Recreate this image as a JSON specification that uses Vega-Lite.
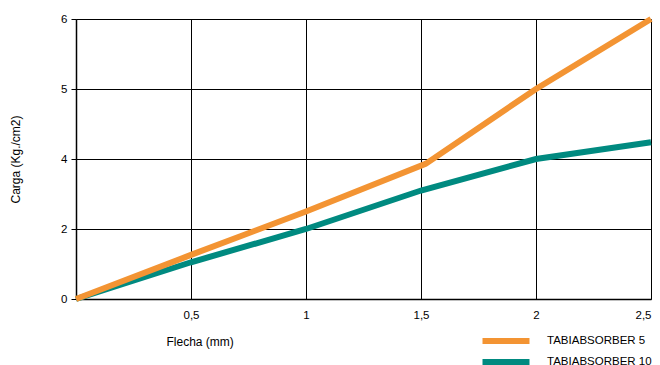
{
  "$schema": "https://vega.github.io/schema/vega-lite/v6.json",
  "width": 575,
  "height": 280,
  "autosize": {"type": "none"},
  "padding": {"left": 76, "top": 19, "right": 9, "bottom": 66},
  "background": "white",
  "config": {
    "view": {"stroke": null},
    "font": "Liberation Sans"
  },
  "data": {
    "values": [
      {"serie": "TABIABSORBER 10", "flecha": 0, "carga": 0},
      {"serie": "TABIABSORBER 10", "flecha": 0.5, "carga": 1.05},
      {"serie": "TABIABSORBER 10", "flecha": 1, "carga": 2},
      {"serie": "TABIABSORBER 10", "flecha": 1.5, "carga": 3.1},
      {"serie": "TABIABSORBER 10", "flecha": 2, "carga": 4},
      {"serie": "TABIABSORBER 10", "flecha": 2.5, "carga": 4.24},
      {"serie": "TABIABSORBER 5", "flecha": 0, "carga": 0},
      {"serie": "TABIABSORBER 5", "flecha": 0.5, "carga": 1.26},
      {"serie": "TABIABSORBER 5", "flecha": 1, "carga": 2.5},
      {"serie": "TABIABSORBER 5", "flecha": 1.52, "carga": 3.86},
      {"serie": "TABIABSORBER 5", "flecha": 2, "carga": 5},
      {"serie": "TABIABSORBER 5", "flecha": 2.5, "carga": 6}
    ]
  },
  "mark": {"type": "line", "strokeWidth": 6, "strokeCap": "butt", "strokeJoin": "miter"},
  "encoding": {
    "x": {
      "field": "flecha",
      "type": "quantitative",
      "scale": {"domain": [0, 2.5], "nice": false},
      "axis": {
        "values": [0, 0.5, 1, 1.5, 2, 2.5],
        "labelExpr": "datum.value == 0 ? '' : replace(format(datum.value, '.1~f'), '.', ',')",
        "title": "Flecha (mm)",
        "titleFontWeight": "normal",
        "titleFontSize": 12,
        "titleColor": "#000",
        "titleAnchor": "start",
        "titleAlign": "left",
        "titleX": 90,
        "titleY": 37,
        "labelFontSize": 11.5,
        "labelColor": "#000",
        "labelPadding": 10,
        "grid": true,
        "gridColor": "#000",
        "gridOpacity": 1,
        "gridWidth": 1,
        "domainColor": "#000",
        "domainWidth": 1.5,
        "tickColor": "#000",
        "tickSize": 5,
        "ticks": false
      }
    },
    "y": {
      "field": "carga",
      "type": "quantitative",
      "scale": {"domain": [0, 2, 4, 5, 6], "range": [280, 210, 140, 70, 0], "nice": false, "zero": false},
      "axis": {
        "values": [0, 2, 4, 5, 6],
        "title": "Carga (Kg./cm2)",
        "titleFontWeight": "normal",
        "titleFontSize": 12,
        "titleColor": "#000",
        "titlePadding": 38,
        "labelFontSize": 11.5,
        "labelColor": "#000",
        "labelPadding": 4,
        "grid": true,
        "gridColor": "#000",
        "gridOpacity": 1,
        "gridWidth": 1,
        "domainColor": "#000",
        "domainWidth": 1.5,
        "tickColor": "#000",
        "tickSize": 5
      }
    },
    "color": {
      "field": "serie",
      "type": "nominal",
      "scale": {"domain": ["TABIABSORBER 5", "TABIABSORBER 10"], "range": ["#F39433", "#008A80"]},
      "legend": {
        "title": null,
        "orient": "none",
        "direction": "vertical",
        "columns": 1,
        "legendX": 421,
        "legendY": 313,
        "symbolType": "M-4,0H4",
        "symbolSize": 138,
        "symbolStrokeWidth": 6,
        "labelFontSize": 11.5,
        "labelColor": "#000",
        "rowPadding": -5,
        "padding": 0,
        "labelOffset": 32,
        "labelLimit": 300
      }
    }
  }
}
